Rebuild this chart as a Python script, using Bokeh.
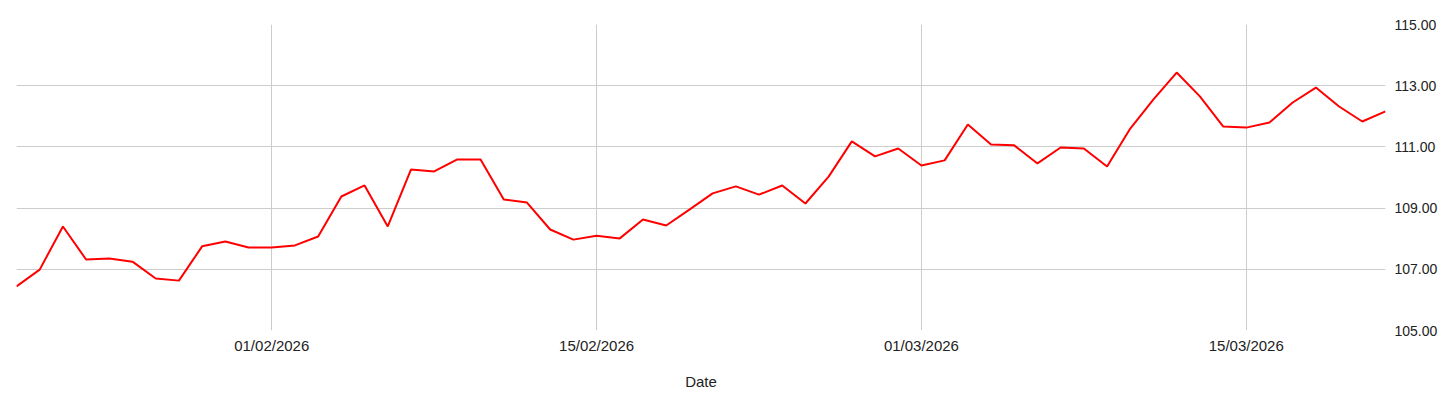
from datetime import datetime, timedelta
from bokeh.plotting import figure
from bokeh.models import (Range1d, LinearAxis, FixedTicker, DatetimeTickFormatter,
                          NumeralTickFormatter, ColumnDataSource, Grid)
from bokeh.embed import file_html
from bokeh.resources import INLINE

start_date = datetime(2026, 1, 21)
values = [
    106.44, 106.99, 108.40, 107.32, 107.35, 107.25, 106.70, 106.63, 107.75, 107.91,
    107.71, 107.71, 107.78, 108.07, 109.38, 109.74, 108.40, 110.26, 110.20, 110.59,
    110.59, 109.28, 109.18, 108.30, 107.97, 108.10, 108.01, 108.63, 108.43, 108.95,
    109.48, 109.71, 109.44, 109.74, 109.15, 110.03, 111.18, 110.69, 110.95, 110.39,
    110.56, 111.73, 111.08, 111.05, 110.46, 110.98, 110.95, 110.36, 111.60, 112.55,
    113.43, 112.65, 111.67, 111.63, 111.80, 112.45, 112.94, 112.32, 111.83, 112.16,
]
dates = [start_date + timedelta(days=i) for i in range(len(values))]
x_tick_dates = [datetime(2026, 2, 1), datetime(2026, 2, 15),
                datetime(2026, 3, 1), datetime(2026, 3, 15)]
y_ticks = [105, 107, 109, 111, 113, 115]

src = ColumnDataSource(dict(date=dates, value=values))

p = figure(width=1440, height=405, x_axis_type="datetime",
           x_range=Range1d(dates[0], dates[-1]), y_range=Range1d(105, 115),
           output_backend="svg", toolbar_location=None, y_axis_location=None,
           min_border_left=16, min_border_top=24, min_border_right=53, min_border_bottom=75)
p.outline_line_color = None
p.background_fill_color = "white"
p.border_fill_color = "white"

p.line("date", "value", source=src, line_color="#ff0000", line_width=2)

xt = FixedTicker(ticks=[d.timestamp() * 1000 for d in x_tick_dates])
xa = p.xaxis[0]
xa.ticker = xt
xa.formatter = DatetimeTickFormatter(days="%d/%m/%Y", months="%d/%m/%Y", hours="%d/%m/%Y")
xa.axis_line_color = None
xa.major_tick_line_color = None
xa.minor_tick_line_color = None
xa.major_tick_out = 0
xa.major_tick_in = 0
xa.minor_tick_out = 0
xa.major_label_standoff = 6
xa.major_label_text_font = "Liberation Sans"
xa.major_label_text_font_size = "15px"
xa.major_label_text_color = "#222222"
xa.axis_label = "Date"
xa.axis_label_text_font = "Liberation Sans"
xa.axis_label_text_font_size = "15px"
xa.axis_label_text_font_style = "normal"
xa.axis_label_text_color = "#222222"
xa.axis_label_standoff = 16

ya = LinearAxis(ticker=FixedTicker(ticks=y_ticks), formatter=NumeralTickFormatter(format="0.00"))
ya.axis_line_color = None
ya.major_tick_line_color = None
ya.minor_tick_line_color = None
ya.major_tick_out = 0
ya.major_tick_in = 0
ya.minor_tick_out = 0
ya.major_label_standoff = 9
ya.major_label_text_font = "Liberation Sans"
ya.major_label_text_font_size = "14px"
ya.major_label_text_color = "#222222"
p.add_layout(ya, "right")

p.xgrid.ticker = xt
p.xgrid.grid_line_color = "#cccccc"
p.ygrid.grid_line_color = None
yg = Grid(dimension=1, ticker=FixedTicker(ticks=y_ticks), grid_line_color="#cccccc")
p.add_layout(yg)

open("out.html", "w").write(file_html(p, INLINE))
